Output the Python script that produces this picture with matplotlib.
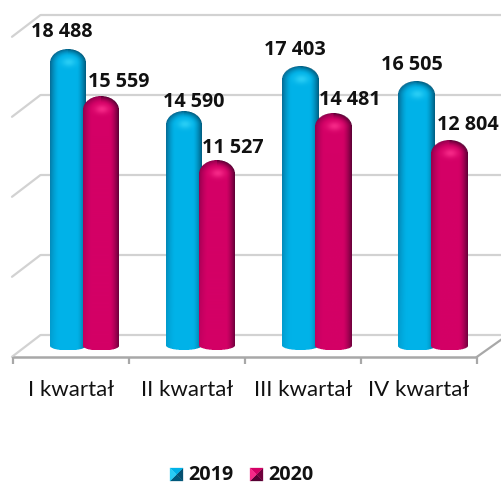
import numpy as np
import matplotlib
matplotlib.use("Agg")
import matplotlib.pyplot as plt
from matplotlib.patches import Polygon
from matplotlib.transforms import Affine2D, IdentityTransform

categories = ["I kwartał", "II kwartał", "III kwartał", "IV kwartał"]
series_names = ["2019", "2020"]
values_2019 = [18488, 14590, 17403, 16505]
values_2020 = [15559, 11527, 14481, 12804]
grid_values = [0, 5000, 10000, 15000, 20000]

# px offsets of each data label from its bar centre / top
offs_2019 = [(-5.5, 17.5), (10.5, 9.5), (-5, 17), (-4, 16.5)]
offs_2020 = [(18, 14.5), (16, 13), (17, 13.5), (19, 15)]

W, H = 502, 483
PX_X = 116.0            # px per category
PX_V = 0.016            # px per value unit
X0, V0 = 13.0, 345.3    # px position of data origin

plt.rcParams["font.family"] = ["Lato", "DejaVu Sans"]
fig = plt.figure(figsize=(W / 100, H / 100), dpi=100)
ax = fig.add_axes([0, 0, 1, 1])
ax.set_xlim(-X0 / PX_X, (W - X0) / PX_X)
ax.set_ylim((V0 - H) / PX_V, V0 / PX_V)
ax.axis("off")


def shifted(dx, dy):
    return ax.transData + Affine2D().translate(dx, dy)


# depth offsets, px (y up)
DEPTH_X, BACK_Y, FRONT_Y = 27.5, 10.3, -11.5
back = shifted(DEPTH_X, BACK_Y)
front = shifted(0, FRONT_Y)
GRID = "#d2d2d2"
AXIS = "#a8a8a8"
PIX = IdentityTransform()

# walls
for v in grid_values:
    ax.plot([0, 4.3], [v, v], color=GRID, lw=1.6, transform=back,
            solid_capstyle="butt", zorder=1)
    x_b, y_b = ax.transData.transform((0, v))
    ax.plot([x_b - 1, x_b + DEPTH_X], [y_b + FRONT_Y, y_b + BACK_Y], color=GRID, lw=1.6,
            transform=PIX, zorder=1, solid_capstyle="round")

# floor front edge + ticks + right diagonal
ax.plot([0, 4], [0, 0], color=AXIS, lw=1.8, transform=front, zorder=2, solid_capstyle="butt")
for i in range(len(categories) + 1):
    xp, yp = ax.transData.transform((i, 0))
    ax.plot([xp, xp], [yp + FRONT_Y, yp + FRONT_Y - 7], color=AXIS, lw=1.6, transform=PIX, zorder=2,
            solid_capstyle="butt")
xp, yp = ax.transData.transform((4, 0))
ax.plot([xp, xp + DEPTH_X], [yp + FRONT_Y, yp + 8], color=AXIS, lw=1.6, transform=PIX, zorder=2)


def bar_image(h_px, w_px, base, edgeL, edgeR, hi):
    """RGBA shaded cylinder with dome top, h_px tall incl. the bottom ellipse."""
    ss = 3
    rx, ry, rb = w_px / 2, 14.0, 4.6
    total = h_px + rb
    ny, nx = int(total * ss), int(w_px * ss)
    ys = (np.arange(ny) + .5) / ss      # from top
    xs = (np.arange(nx) + .5) / ss - rx
    X, Y = np.meshgrid(xs, ys)
    u = X / rx
    capv = np.clip((ry - Y) / ry, 0, None)
    rim = np.sqrt(u ** 2 + capv ** 2)
    fade = np.clip(Y / max(h_px, 1), 0, 1)
    # lateral shading
    k = np.clip((rim - .5) / .5, 0, 1) ** 1.5
    side = np.where(X < 0, 1.0, 0.0)[..., None]
    edge = side * edgeL + (1 - side) * edgeR
    strength = (1 - 0.75 * fade * side[..., 0] - 0.2 * fade * (1 - side[..., 0]))[..., None]
    rgb = base * (1 - k[..., None] * strength) + edge * k[..., None] * strength
    # highlight under the dome
    g = np.exp(-(((X - 1) / 7) ** 2 + ((Y - ry + 1) / 4.5) ** 2))[..., None]
    rgb = rgb * (1 - g) + hi * g
    inside = np.where(Y < ry, u ** 2 + capv ** 2 <= 1,
                      np.where(Y > h_px, u ** 2 + ((Y - h_px) / rb) ** 2 <= 1, np.abs(u) <= 1))
    a = inside.astype(float)
    img = np.dstack([np.clip(rgb, 0, 1), a])
    # premultiplied box downsample
    hh, ww = ny // ss, nx // ss
    img = img[:hh * ss, :ww * ss]
    p = img.copy()
    p[..., :3] *= p[..., 3:]
    p = p.reshape(hh, ss, ww, ss, 4).mean(axis=(1, 3))
    p[..., :3] /= np.maximum(p[..., 3:], 1e-4)
    return np.clip(p, 0, 1), rb


BLUE = dict(base=np.array([0, 178, 232]) / 255, edgeL=np.array([6, 100, 140]) / 255,
            edgeR=np.array([0, 88, 122]) / 255, hi=np.array([40, 205, 245]) / 255)
PINK = dict(base=np.array([212, 0, 102]) / 255, edgeL=np.array([140, 0, 75]) / 255,
            edgeR=np.array([85, 0, 50]) / 255, hi=np.array([245, 40, 135]) / 255)

BAR_W = 36 / PX_X
POS = [0.47, 0.76]
for series, style, pos, z, offs in zip([values_2019, values_2020], [BLUE, PINK], POS, [4, 5],
                                       [offs_2019, offs_2020]):
    for i, v in enumerate(series):
        x = i + pos
        img, rb = bar_image(v * PX_V, 36, **style)
        ax.imshow(img, extent=[x - BAR_W / 2, x + BAR_W / 2, -rb / PX_V, v], aspect="auto",
                  interpolation="bilinear", zorder=z)
        dx, dy = offs[i]
        ax.annotate(f"{v:,}".replace(",", " "), (x, v), xytext=(dx * .72, dy * .72),
                    textcoords="offset points", ha="center", va="center", fontsize=14.2,
                    fontweight="bold", family="Open Sans", color="#111111", zorder=8)
ax.set_xlim(-X0 / PX_X, (W - X0) / PX_X)
ax.set_ylim((V0 - H) / PX_V, V0 / PX_V)

# category labels
for i, c in enumerate(categories):
    ax.annotate(c, (i + .5, 0), xytext=(0, -44.5 * .72), textcoords="offset points",
                ha="center", va="center", fontsize=16, color="#111111")

# legend
to_fig = fig.transFigure
for name, lx, tx, st in zip(series_names, [170 / W, 250 / W], [188 / W, 268 / W], [BLUE, PINK]):
    sw, sh = 13 / W, 13 / H
    ly = (H - 481) / H
    cx, cy = lx + sw / 2, ly + sh / 2
    corners = [(lx, ly), (lx + sw, ly), (lx + sw, ly + sh), (lx, ly + sh)]
    tones = [st["edgeR"], st["edgeL"] * .8, st["base"], st["hi"]]
    for j in range(4):
        fig.add_artist(Polygon([corners[j], corners[(j + 1) % 4], (cx, cy)], closed=True,
                               transform=to_fig, facecolor=tones[j], edgecolor=tones[j], lw=.2))
    fig.text(tx, (H - 474.5) / H, name, fontsize=14.2, fontweight="bold", family="Open Sans",
             va="center", ha="left", color="#111111")

fig.savefig("out.png", dpi=100, facecolor="white")
